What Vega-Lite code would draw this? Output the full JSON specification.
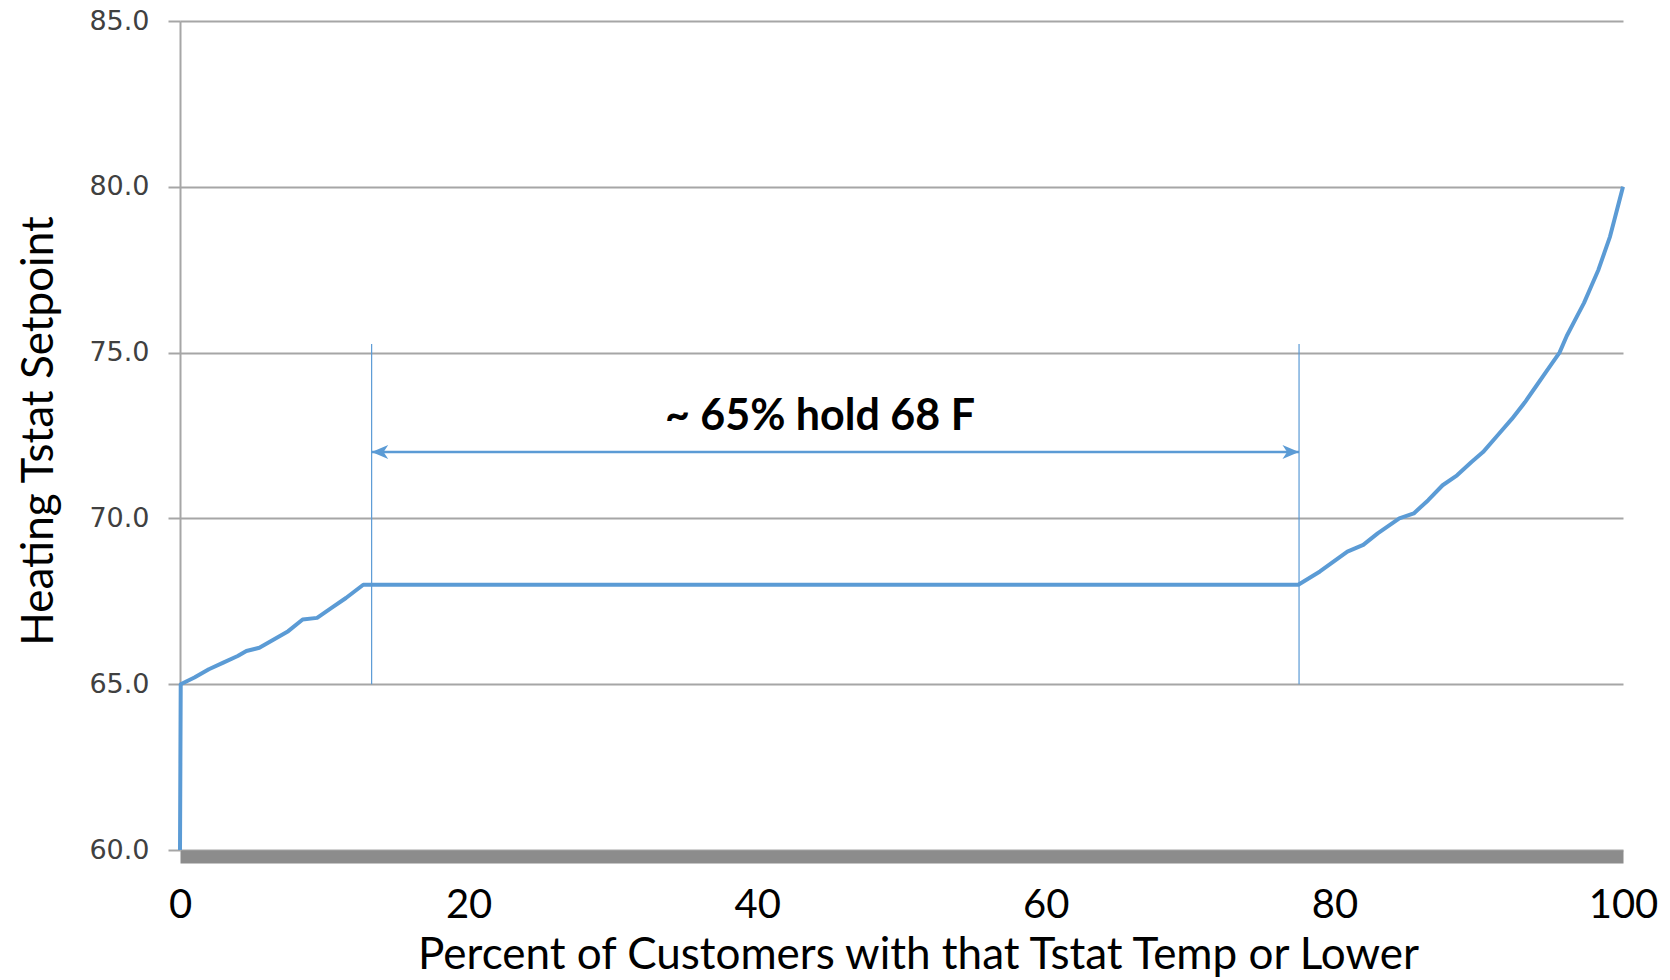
{
  "$schema": "https://vega.github.io/schema/vega-lite/v6.json",
  "autosize": {"type": "none"},
  "width": 1443,
  "height": 829,
  "padding": {"left": 180, "top": 21, "right": 47, "bottom": 130},
  "background": "white",
  "config": {"view": {"stroke": null}},
  "datasets": {
    "curve": [
      {"i": 0, "p": 0, "t": 60},
      {"i": 1, "p": 0.05, "t": 65},
      {"i": 2, "p": 1, "t": 65.2},
      {"i": 3, "p": 2, "t": 65.45},
      {"i": 4, "p": 3, "t": 65.65},
      {"i": 5, "p": 4, "t": 65.85},
      {"i": 6, "p": 4.6, "t": 66.0},
      {"i": 7, "p": 5.5, "t": 66.1},
      {"i": 8, "p": 6.5, "t": 66.35},
      {"i": 9, "p": 7.5, "t": 66.6},
      {"i": 10, "p": 8.5, "t": 66.95},
      {"i": 11, "p": 9.5, "t": 67.0},
      {"i": 12, "p": 10.5, "t": 67.3},
      {"i": 13, "p": 11.5, "t": 67.6},
      {"i": 14, "p": 12.7, "t": 68.0},
      {"i": 15, "p": 77.5, "t": 68.0},
      {"i": 16, "p": 79, "t": 68.4},
      {"i": 17, "p": 80.9, "t": 69.0},
      {"i": 18, "p": 82, "t": 69.2},
      {"i": 19, "p": 83, "t": 69.55},
      {"i": 20, "p": 84.5, "t": 70.0},
      {"i": 21, "p": 85.5, "t": 70.15},
      {"i": 22, "p": 86.5, "t": 70.55},
      {"i": 23, "p": 87.5, "t": 71.0},
      {"i": 24, "p": 88.5, "t": 71.3},
      {"i": 25, "p": 89.5, "t": 71.7},
      {"i": 26, "p": 90.3, "t": 72.0},
      {"i": 27, "p": 91.3, "t": 72.5},
      {"i": 28, "p": 92.3, "t": 73.0},
      {"i": 29, "p": 93.2, "t": 73.5},
      {"i": 30, "p": 94.0, "t": 74.0},
      {"i": 31, "p": 94.8, "t": 74.5},
      {"i": 32, "p": 95.6, "t": 75.0},
      {"i": 33, "p": 96.1, "t": 75.5},
      {"i": 34, "p": 96.7, "t": 76.0},
      {"i": 35, "p": 97.3, "t": 76.5},
      {"i": 36, "p": 97.8, "t": 77.0},
      {"i": 37, "p": 98.3, "t": 77.5},
      {"i": 38, "p": 98.7, "t": 78.0},
      {"i": 39, "p": 99.1, "t": 78.5},
      {"i": 40, "p": 99.4, "t": 79.0},
      {"i": 41, "p": 99.7, "t": 79.5},
      {"i": 42, "p": 100, "t": 80.0}
    ],
    "vlines": [
      {"p": 13.28, "t1": 65.0, "t2": 75.26},
      {"p": 77.55, "t1": 65.0, "t2": 75.26}
    ],
    "arrow": [
      {"p1": 13.28, "p2": 77.55, "t": 72.0}
    ],
    "heads": [
      {"p": 13.28, "t": 72.0, "dir": "left"},
      {"p": 77.55, "t": 72.0, "dir": "right"}
    ],
    "label": [
      {"p": 44.35, "t": 72.67, "txt": "~ 65% hold 68 F"}
    ]
  },
  "layer": [
    {
      "data": {"name": "curve"},
      "mark": {"type": "line", "color": "#5B9BD5", "strokeWidth": 4, "strokeJoin": "round"},
      "encoding": {
        "x": {
          "field": "p", "type": "quantitative",
          "scale": {"domain": [0, 100], "nice": false, "zero": false},
          "axis": {
            "values": [0, 20, 40, 60, 80, 100],
            "format": "d",
            "grid": false,
            "ticks": false,
            "domainColor": "#8c8c8c",
            "domainWidth": 13,
            "domainCap": "butt",
            "offset": 6.5,
            "labelFont": "Lato",
            "labelFontSize": 40,
            "labelColor": "#000000",
            "labelBaseline": "alphabetic",
            "labelPadding": 60.5,
            "labelFlush": false,
            "labelOverlap": false,
            "title": "Percent of Customers with that Tstat Temp or Lower",
            "titleFont": "Lato",
            "titleFontSize": 44,
            "titleFontWeight": "normal",
            "titleColor": "#000000",
            "titleBaseline": "alphabetic",
            "titleAlign": "center",
            "titleX": 738,
            "titleY": 111.5
          }
        },
        "y": {
          "field": "t", "type": "quantitative",
          "scale": {"domain": [60, 85], "nice": false, "zero": false},
          "axis": {
            "values": [60, 65, 70, 75, 80, 85],
            "format": ".1f",
            "grid": true,
            "gridColor": "#a6a6a6",
            "gridWidth": 2,
            "domainColor": "#a6a6a6",
            "domainWidth": 2,
            "tickSize": 12,
            "tickColor": "#a6a6a6",
            "tickWidth": 2,
            "labelFont": "DejaVu Sans",
            "labelFontSize": 27,
            "labelColor": "#404040",
            "labelPadding": 19,
            "labelFlush": false,
            "title": "Heating Tstat Setpoint",
            "titleFont": "Lato",
            "titleFontSize": 44,
            "titleFontWeight": "normal",
            "titleColor": "#000000",
            "titleAngle": -90,
            "titleBaseline": "alphabetic",
            "titleAlign": "center",
            "titleX": -128,
            "titleY": 409.5
          }
        },
        "order": {"field": "i", "type": "quantitative"}
      }
    },
    {
      "data": {"name": "vlines"},
      "mark": {"type": "rule", "color": "#5B9BD5", "strokeWidth": 1.2},
      "encoding": {
        "x": {"field": "p", "type": "quantitative"},
        "y": {"field": "t1", "type": "quantitative"},
        "y2": {"field": "t2"}
      }
    },
    {
      "data": {"name": "arrow"},
      "mark": {"type": "rule", "color": "#5B9BD5", "strokeWidth": 2.5},
      "encoding": {
        "x": {"field": "p1", "type": "quantitative"},
        "x2": {"field": "p2"},
        "y": {"field": "t", "type": "quantitative"}
      }
    },
    {
      "data": {"name": "heads"},
      "mark": {"type": "point", "filled": true, "color": "#5B9BD5", "opacity": 1, "size": 1100},
      "encoding": {
        "x": {"field": "p", "type": "quantitative"},
        "y": {"field": "t", "type": "quantitative"},
        "shape": {
          "field": "dir", "type": "nominal", "legend": null,
          "scale": {
            "domain": ["left", "right"],
            "range": ["M0,0L1,-0.42L0.72,0L1,0.42Z", "M0,0L-1,-0.42L-0.72,0L-1,0.42Z"]
          }
        }
      }
    },
    {
      "data": {"name": "label"},
      "mark": {"type": "text", "font": "Lato", "fontWeight": "bold", "fontSize": 43, "color": "#000000", "align": "center", "baseline": "alphabetic"},
      "encoding": {
        "x": {"field": "p", "type": "quantitative"},
        "y": {"field": "t", "type": "quantitative"},
        "text": {"field": "txt"}
      }
    }
  ]
}
